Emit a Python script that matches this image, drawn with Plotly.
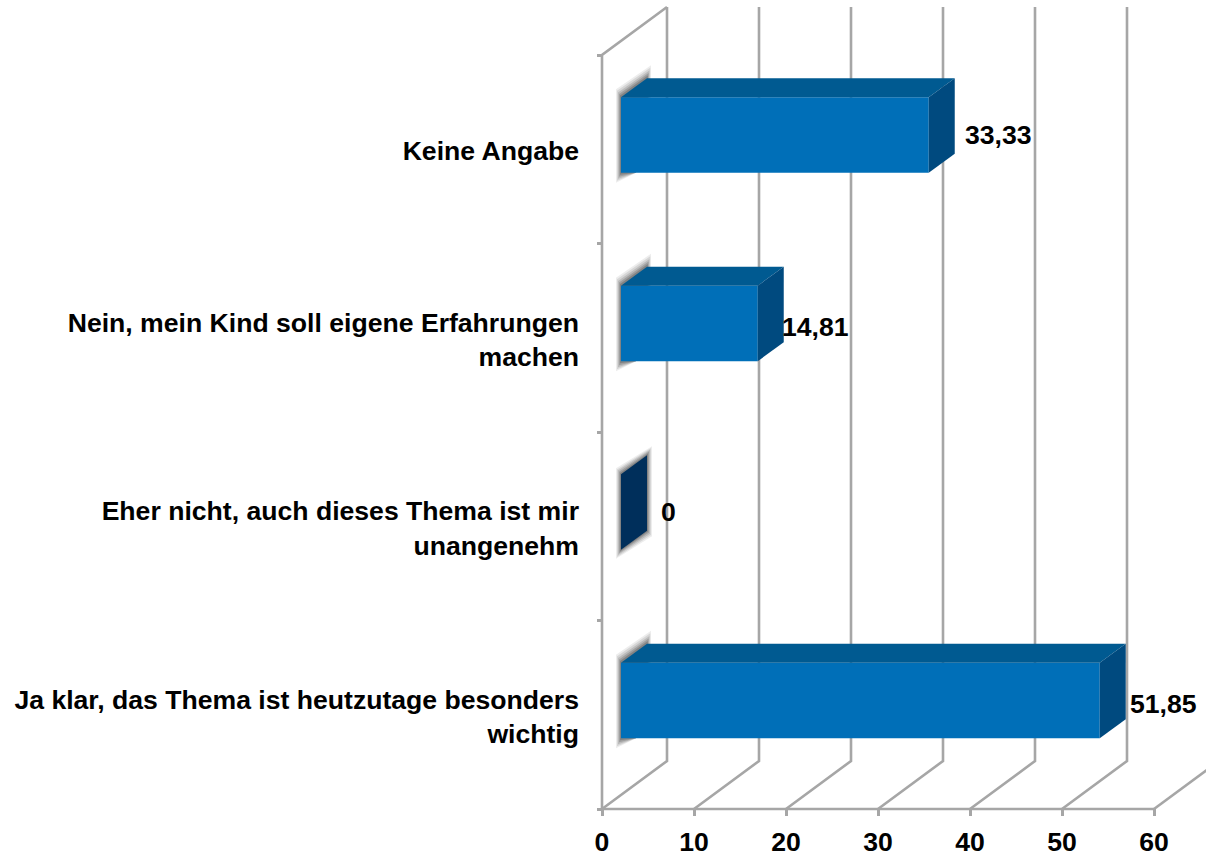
import plotly.graph_objects as go

categories = ["Ja klar, das Thema ist heutzutage besonders<br>wichtig",
              "Eher nicht, auch dieses Thema ist mir<br>unangenehm",
              "Nein, mein Kind soll eigene Erfahrungen<br>machen",
              "Keine Angabe"]
values = [51.85, 0, 14.81, 33.33]
value_labels = ["51,85", "0", "14,81", "33,33"]
x_ticks = [0, 10, 20, 30, 40, 50, 60]

# pixel scale of the axes
PX = 9.2        # px per x unit
PY = 188.5      # px per category band
W, H = 1206, 856
AXIS_LEFT = 602
FLOOR = 809
TICK_X = 5      # length of the y ticks, left of the wall
TICK_Y = 7      # length of the x ticks, below the floor
XMIN = -TICK_X / PX
XMAX = (W - AXIS_LEFT) / PX
YMIN = -TICK_Y / PY
YMAX = FLOOR / PY

GRID = "#a6a6a6"
FRONT, TOP, SIDE, EMPTY = "#006fb8", "#005a91", "#004a7f", "#002f5b"
FONT_SIZE = 26.6

label_shift = [(63.5, -3.5), (47, 0), (57.5, -3.5), (69.5, 0)]

DX_W, DY_W = 65 / PX, 48 / PY      # wall depth
DX_B, DY_B = 26 / PX, 19 / PY      # bar depth
X0 = 19 / PX                        # bar start gap
BAR_H = 75.5 / PY
Y_SHIFT = 14.3 / PY
BAR_SCALE = 9.233 / PX

fig = go.Figure()


def line(xs, ys, width=2.6):
    fig.add_trace(go.Scatter(x=xs, y=ys, mode="lines", hoverinfo="skip",
                             line=dict(color=GRID, width=width), showlegend=False))


def poly(pts, color):
    fig.add_trace(go.Scatter(x=[p[0] for p in pts] + [pts[0][0]], y=[p[1] for p in pts] + [pts[0][1]],
                             mode="lines", fill="toself", fillcolor=color, hoverinfo="skip",
                             line=dict(width=0), showlegend=False))


# walls and floor
line([0, 0, DX_W], [0, 4, 4 + DY_W])
line([0, 60], [0, 0])
for t in x_ticks:
    line([t, t + DX_W] + ([t + DX_W] if t < 60 else []),
         [0, DY_W] + ([4 + DY_W] if t < 60 else []))

# bars
for i, v in enumerate(values):
    x0 = X0
    x1 = X0 + v * BAR_SCALE
    yt = i + 0.5 + Y_SHIFT + BAR_H / 2
    yb = yt - BAR_H

    def rel(dx, dy):
        return (x0 + dx / PX, yt - dy / PY)

    for s, a in [(1.0, 0.09), (0.8, 0.13), (0.6, 0.17), (0.4, 0.22), (0.2, 0.28)]:
        col = f"rgba(60,60,60,{a})"
        if v == 0:
            poly([rel(-5 * s, -6 * s), rel(26 + 5 * s, -19 - 9 * s), rel(26 + 5 * s, 56 + 6 * s),
                  rel(-5 * s, 75.5 + 9 * s)], col)
        else:
            poly([rel(-5 * s, -8 * s), rel(26 + 4 * s, -19 - 13 * s), rel(26 + 4 * s, 30),
                  rel(15, 75.5), rel(-5 * s, 75.5 + 10 * s)], col)

    if v == 0:
        poly([(x0, yt), (x0 + DX_B, yt + DY_B), (x0 + DX_B, yb + DY_B), (x0, yb)], EMPTY)
    else:
        poly([(x0, yb), (x1, yb), (x1, yt), (x0, yt)], FRONT)
        poly([(x0, yt), (x1, yt), (x1 + DX_B, yt + DY_B), (x0 + DX_B, yt + DY_B)], TOP)
        poly([(x1, yb), (x1 + DX_B, yb + DY_B), (x1 + DX_B, yt + DY_B), (x1, yt)], SIDE)
    dx, dy = label_shift[i]
    fig.add_annotation(x=x1, y=(yt + yb) / 2, xref="x", yref="y", text=value_labels[i], showarrow=False,
                       xshift=dx, yshift=dy, xanchor="center", yanchor="middle",
                       font=dict(family="Liberation Sans", size=FONT_SIZE, color="black", weight="bold"))

font = dict(family="Liberation Sans", size=FONT_SIZE, color="black", weight="bold")
fig.update_layout(
    width=W, height=H,
    margin=dict(l=AXIS_LEFT - TICK_X, r=0, t=0, b=H - FLOOR - TICK_Y, pad=0, autoexpand=False),
    paper_bgcolor="white", plot_bgcolor="white", showlegend=False,
    xaxis=dict(range=[XMIN, XMAX], tickvals=x_ticks, ticktext=[str(t) for t in x_ticks], showgrid=False,
               zeroline=False, showline=False, ticks="inside", ticklen=TICK_Y, tickwidth=2.6, tickcolor=GRID,
               tickfont=font, ticklabelstandoff=7, fixedrange=True, automargin=False),
    yaxis=dict(range=[YMIN, YMAX], tickvals=[i + 0.49 for i in range(4)], ticktext=categories, ticks="",
               showgrid=False, zeroline=False, showline=False, tickfont=font, ticklabelstandoff=17,
               fixedrange=True, automargin=False,
               minor=dict(tickvals=[0, 1, 2, 3, 4], ticks="inside", ticklen=TICK_X, tickwidth=2.6, tickcolor=GRID,
                          showgrid=False)),
)

fig.write_html("out.html", config=dict(displayModeBar=False),
               post_script="document.body.style.margin='0';document.documentElement.style.overflow='hidden';")
